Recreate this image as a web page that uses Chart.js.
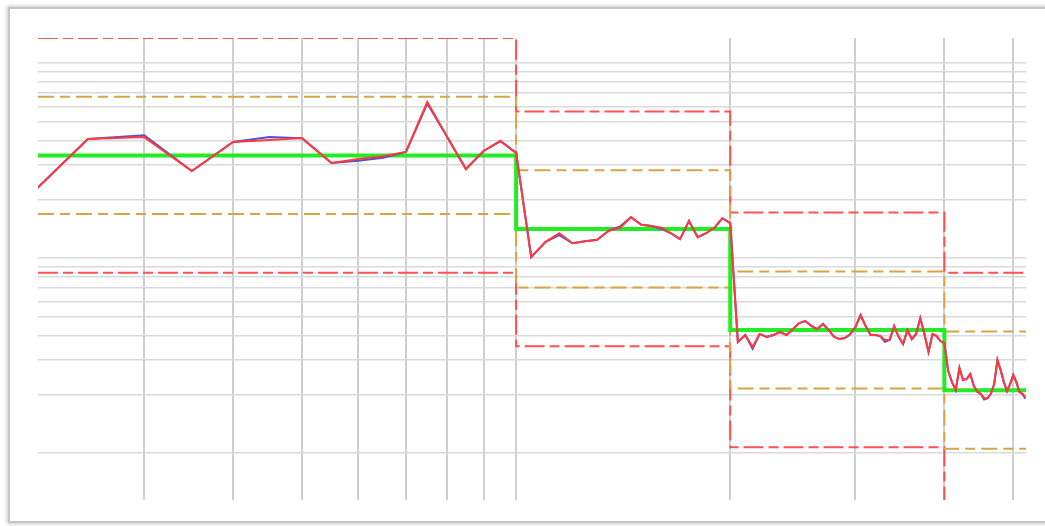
<!DOCTYPE html>
<html>
<head>
<meta charset="utf-8">
<script src="https://cdn.jsdelivr.net/npm/chart.js@4.4.1/dist/chart.umd.min.js"></script>
<style>
  html, body { margin: 0; padding: 0; background: #fff; overflow: hidden; }
  #frame {
    position: absolute; left: 8px; top: 7px; width: 1060px; height: 512px;
    border: 2px solid #c6c6c6; box-shadow: 0 0 4px 1px rgba(0,0,0,0.22); background: #fff;
  }
  #wrap { position: absolute; left: 0; top: 0; width: 1045px; height: 526px; }
</style>
</head>
<body>
<div id="frame"></div>
<div id="wrap"><canvas id="c" width="1045" height="526"></canvas></div>
<script>
// Sample times (log-scaled x axis)
const sampleX = [
  2, 2.5, 3, 3.5, 4, 4.5, 5, 5.5, 6, 6.5, 7, 7.5, 8, 8.5, 9, 9.5, 10,
  10.5, 11, 11.5, 12, 12.5, 13, 13.5, 14, 14.5, 15, 15.5, 16, 16.5, 17, 17.5, 18, 18.5, 19, 19.5, 20,
  20.5, 21, 21.5, 22, 22.5, 23, 23.5, 24, 24.5, 25, 25.5, 26, 26.5, 27, 27.5, 28, 28.5, 29, 29.5, 30,
  30.5, 31, 31.5, 32, 32.5, 33, 33.5, 34, 34.5, 35, 35.5, 36, 36.5, 37, 37.5, 38, 38.5, 39, 39.5, 40,
  40.5, 41, 41.5, 42, 42.5, 43, 43.5, 44, 44.5, 45, 45.5, 46, 46.5, 47, 47.5, 48, 48.5, 49, 49.5, 50,
  50.5, 51, 51.5, 52
];

// Smoothed measurement (drawn in red)
const smoothed = [
  18.5, 40.8, 41.7, 27.9, 39.4, 40.3, 41.2, 30.7, 32.2, 33.3, 35.0, 63.1, 41.7, 28.6, 35.4, 39.8, 34.6,
  10.1, 12.1, 13.4, 11.9, 12.2, 12.4, 13.8, 14.3, 16.2, 14.8, 14.6, 14.3, 13.4, 12.5, 15.5, 12.8, 13.4, 14.3, 16.0, 15.1,
  3.71, 4.03, 3.50, 4.08, 3.94, 4.03, 4.17, 4.03, 4.32, 4.64, 4.75, 4.48, 4.32, 4.59, 4.27, 3.94, 3.84, 3.89, 4.08, 4.43,
  5.10, 4.48, 4.03, 4.03, 3.98, 3.80, 3.80, 4.48, 3.94, 3.62, 4.27, 3.84, 4.08, 4.92, 4.08, 3.30, 4.08, 3.98, 3.75, 3.66,
  2.63, 2.31, 2.10, 2.73, 2.37, 2.40, 2.54, 2.21, 2.06, 2.01, 1.91, 1.91, 2.01, 2.26, 3.00, 2.66, 2.31, 2.08, 2.26, 2.51,
  2.31, 2.06, 2.01, 1.94
];

// Raw measurement (drawn in blue, mostly under the red trace)
const raw = [
  18.5, 40.8, 42.6, 27.9, 39.4, 41.8, 41.2, 30.7, 31.5, 32.7, 35.0, 62.0, 41.7, 28.6, 35.4, 39.8, 34.6,
  10.1, 12.1, 13.1, 11.9, 12.2, 12.4, 13.8, 14.5, 16.2, 14.8, 14.6, 14.1, 13.4, 12.5, 15.5, 12.8, 13.4, 14.3, 16.0, 15.1,
  3.71, 4.03, 3.42, 4.08, 3.94, 4.03, 4.17, 4.03, 4.32, 4.64, 4.75, 4.48, 4.32, 4.59, 4.27, 3.94, 3.84, 3.89, 4.08, 4.43,
  5.10, 4.48, 4.03, 4.03, 3.98, 3.72, 3.80, 4.48, 3.94, 3.62, 4.27, 3.84, 4.08, 4.92, 4.08, 3.30, 4.08, 3.98, 3.75, 3.66,
  2.63, 2.31, 2.10, 2.73, 2.37, 2.40, 2.54, 2.21, 2.06, 2.01, 1.88, 1.91, 2.01, 2.26, 3.00, 2.66, 2.31, 2.08, 2.26, 2.51,
  2.31, 2.06, 2.01, 1.90
];

// Phase boundaries and per-phase levels
const X_MIN = 2.127, X_MAX = 52.1;
const Y_MIN = 0.574, Y_MAX = 134.4;
const phaseStart = [X_MIN, 10, 20, 40, X_MAX];
const centerLine   = [33.6, 14.1, 4.27, 2.10];
const upperControl = [134.4, 56.4, 17.1, 8.4];
const upperWarning = [67.2, 28.2, 8.54, 4.2];
const lowerWarning = [16.8, 7.05, 2.14, 1.05];
const lowerControl = [8.4, 3.53, 1.07, 0.525];

// Grid positions
const xGrid = [3, 4, 5, 6, 7, 8, 9, 10, 20, 30, 40, 50];
const yGrid = [1, 2, 3, 4, 5, 6, 7, 8, 9, 10, 20, 30, 40, 50, 60, 70, 80, 90, 100];

function stepSeries(levels) {
  const pts = levels.map((v, i) => ({ x: phaseStart[i], y: v }));
  pts.push({ x: phaseStart[phaseStart.length - 1], y: levels[levels.length - 1] });
  return pts;
}
const trace = vals => sampleX.map((x, i) => ({ x, y: vals[i] }));

const redLimit = 'rgba(255,72,72,0.95)';
const tanLimit = '#d9a443';

new Chart(document.getElementById('c'), {
  type: 'line',
  data: {
    datasets: [
      { data: trace(smoothed), borderColor: '#ff3a3a', borderWidth: 2 },
      { data: trace(raw), borderColor: '#5050dc', borderWidth: 2 },
      { data: stepSeries(centerLine), borderColor: '#22ec22', borderWidth: 4, stepped: 'before' },
      { data: stepSeries(upperWarning), borderColor: tanLimit, borderWidth: 2, borderDash: [16, 6, 10, 6], stepped: 'before' },
      { data: stepSeries(lowerWarning), borderColor: tanLimit, borderWidth: 2, borderDash: [16, 6, 10, 6], stepped: 'before' },
      { data: stepSeries(upperControl), borderColor: redLimit, borderWidth: 2, borderDash: [20, 5, 10, 5], stepped: 'before' },
      { data: stepSeries(lowerControl), borderColor: redLimit, borderWidth: 2, borderDash: [20, 5, 10, 5], stepped: 'before' }
    ]
  },
  options: {
    responsive: false,
    animation: false,
    layout: { padding: { left: 38, top: 38, right: 19, bottom: 26 } },
    plugins: { legend: { display: false }, tooltip: { enabled: false } },
    elements: { point: { radius: 0 }, line: { tension: 0, fill: false } },
    scales: {
      x: {
        type: 'logarithmic', min: X_MIN, max: X_MAX, bounds: 'data',
        ticks: { display: false },
        border: { display: false },
        grid: { color: '#cfcfcf', lineWidth: 2, drawTicks: false },
        afterBuildTicks: s => { s.ticks = xGrid.map(v => ({ value: v })); },
        afterFit: s => { s.height = 0; }
      },
      y: {
        type: 'logarithmic', min: Y_MIN, max: Y_MAX, bounds: 'data',
        ticks: { display: false },
        border: { display: false },
        grid: { color: '#d9d9d9', lineWidth: 1.5, drawTicks: false },
        afterBuildTicks: s => { s.ticks = yGrid.map(v => ({ value: v })); },
        afterFit: s => { s.width = 0; }
      }
    }
  }
});
</script>
</body>
</html>
